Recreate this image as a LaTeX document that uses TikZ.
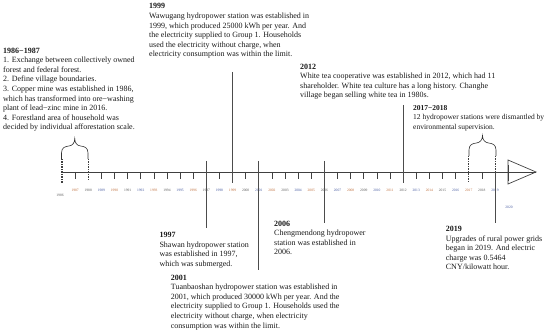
\documentclass[tikz,border=0pt]{standalone}
\usepackage{fontspec}
\setmainfont{Liberation Serif}
\usetikzlibrary{calc}
\definecolor{lblA}{RGB}{70,90,160}
\definecolor{lblB}{RGB}{190,110,60}
\definecolor{lblC}{RGB}{90,90,90}
\begin{document}
\begin{tikzpicture}[x=1pt,y=-1pt,
  txt/.style={anchor=north west,inner sep=0pt,align=left,font=\fontsize{8}{9.6}\selectfont,text=black!90},
  axisline/.style={line width=0.7pt,draw=black!75},
  vline/.style={line width=0.8pt,draw=black!70},
  dline/.style={line width=0.9pt,draw=black!75,dash pattern=on 1.5pt off 1pt},
  tickline/.style={line width=0.6pt,draw=black!75},
  brc/.style={line width=0.6pt,draw=black!80},
  yl/.style={inner sep=0pt,font=\fontsize{3.6}{4}\selectfont}]
\useasboundingbox (0,0) rectangle (550,334);

% year positions on the axis
\foreach \yr in {1986,...,2020} {
  \coordinate (t\yr) at ({62+(\yr-1986)*13.12},172);
}
\coordinate (axend) at (536,172);

% axis
\draw[axisline] (t1986) -- (axend);
\draw[axisline] (508,160) -- (axend) -- (508,184) -- cycle;

% short ticks
\foreach \yr in {1987,1989,1990,1991,1992,1993,1994,1995,1996,1998,2000,2002,2003,2004,2005,2007,2008,2009,2010,2011,2013,2014,2015,2016,2018} {
  \draw[tickline] (t\yr) -- ++(0,7);
}
\draw[tickline] ($(t2020)+(0,-7)$) -- ($(t2020)+(0,9)$);

% tick labels
\foreach \yr [count=\i] in {1987,...,2019} {
  \pgfmathtruncatemacro{\c}{mod(\i,3)}
  \ifnum\c=0 \def\lc{lblA}\fi
  \ifnum\c=1 \def\lc{lblB}\fi
  \ifnum\c=2 \def\lc{lblC}\fi
  \node[yl,text=\lc] (l\yr) at ($(t\yr)+(0,18)$) {\yr};
}
\node[yl,text=lblC] (l1986) at (60,195) {1986};
\node[yl,text=lblA] (l2020) at (509,207) {2020};

% dashed marks
\draw[dline,line width=1.2pt] ($(t1986)+(0,-13)$) -- ($(t1986)+(0,12)$);
\draw[dline] ($(t1988)+(0,-13)$) -- ($(t1988)+(0,8)$);
\draw[dline] ($(t2017)+(0,-16)$) -- ($(t2017)+(0,11)$);
\draw[dline] ($(t2019)+(0,-16)$) -- (t2019);

% braces
\draw[brc] (61.5,159) -- (61.5,153) .. controls (61.5,147.5) and (65,146.5) .. (69,146) .. controls (72.5,145.5) and (74.75,143) .. (74.75,138.5) .. controls (74.75,143) and (77,145.5) .. (80.5,146) .. controls (84.5,146.5) and (88,147.5) .. (88,153) -- (88,159);
\draw[brc] (469,156) -- (469,150) .. controls (469,144.5) and (472.5,143.5) .. (476.5,143) .. controls (480,142.5) and (482.5,140) .. (482.5,135.5) .. controls (482.5,140) and (485,142.5) .. (488.5,143) .. controls (492.5,143.5) and (496,144.5) .. (496,150) -- (496,156);

% long event lines
\draw[vline] ($(t1997)+(0,-11)$) -- ($(t1997)+(0,56)$);
\draw[vline] ($(t1999)+(0,-100)$) -- ($(t1999)+(0,11)$);
\draw[vline] ($(t2001)+(0,-11)$) -- ($(t2001)+(0,98)$);
\draw[vline] ($(t2006)+(0,-11)$) -- ($(t2006)+(0,51)$);
\draw[vline] ($(t2012)+(0,-67)$) -- ($(t2012)+(0,11)$);
\draw[vline] (t2019) -- ($(t2019)+(0,51)$);

% texts
\node[txt] (e8687) at (3,47.5) {\textbf{1986−1987}\\
1. Exchange between collectively owned\\
forest and federal forest.\\
2. Define village boundaries.\\
3. Copper mine was established in 1986,\\
which has transformed into ore−washing\\
plant of lead−zinc mine in 2016.\\
4. Forestland area of household was\\
decided by individual afforestation scale.};

\node[txt] (e1999) at (149,3.5) {\textbf{1999}\\
Wawugang hydropower station was established in\\
1999, which produced 25000 kWh per year. And\\
the electricity supplied to Group 1. Households\\
used the electricity without charge, when\\
electricity consumption was within the limit.};

\node[txt] (e2012) at (300,63.5) {\textbf{2012}\\
White tea cooperative was established in 2012, which had 11\\
shareholder. White tea culture has a long history. Changhe\\
village began selling white tea in 1980s.};

\node[txt,font=\fontsize{7.5}{9.6}\selectfont] (e1718) at (413,105) {\textbf{2017−2018}\\
12 hydropower stations were dismantled by\\
environmental supervision.};

\node[txt] (e1997) at (159.3,232) {\textbf{1997}\\
Shawan hydropower station\\
was established in 1997,\\
which was submerged.};

\node[txt] (e2006) at (274,220.5) {\textbf{2006}\\
Chengmendong hydropower\\
station was established in\\
2006.};

\node[txt] (e2001) at (170.7,274.5) {\textbf{2001}\\
Tuanbaoshan hydropower station was established in\\
2001, which produced 30000 kWh per year. And the\\
electricity supplied to Group 1. Households used the\\
electricity without charge, when electricity\\
consumption was within the limit.};

\node[txt] (e2019) at (445.7,226) {\textbf{2019}\\
Upgrades of rural power grids\\
began in 2019. And electric\\
charge was 0.5464\\
CNY/kilowatt hour.};
\end{tikzpicture}
\end{document}
